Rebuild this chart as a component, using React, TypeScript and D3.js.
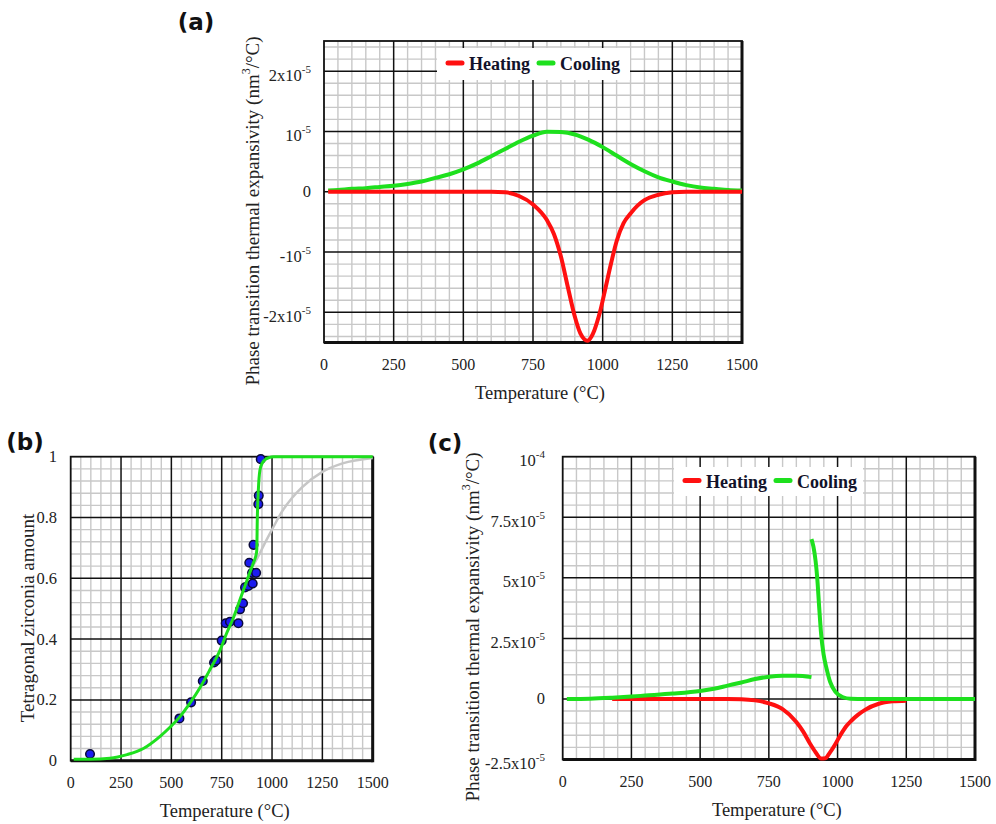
import React from "react";
import * as d3 from "d3";

const SERIF = "'Liberation Serif', 'Times New Roman', Times, serif";
const LETTER_FONT = "'DejaVu Sans', Verdana, sans-serif";
const RED = "#ff1010";
const GREEN = "#1ee01e";
const GRAY = "#c6c6c6";
const MINOR = "#c8c8c8";
const POINT_BLUE = "#1c1cf0";

// shared axis
const tempTicks = [0, 250, 500, 750, 1000, 1250, 1500];
const legendLabels = ["Heating", "Cooling"];

// (a) expansivity, values in units of 1e-5 nm3/°C
const aYTicks = [-2, -1, 0, 1, 2];
const aYLabels: [string, string][] = [["-2x10", "-5"], ["-10", "-5"], ["0", ""], ["10", "-5"], ["2x10", "-5"]];
const aHeatTemp = [15, 100, 200, 300, 400, 500, 600, 650, 700, 750, 800, 825, 850, 875, 900, 920, 935, 945, 960, 970, 990, 1010, 1030, 1050, 1075, 1100, 1125, 1150, 1200, 1250, 1300, 1400, 1500];
const aHeating = [0, 0, 0, 0, 0, 0, 0, -0.01, -0.07, -0.21, -0.47, -0.7, -1.07, -1.58, -2.07, -2.35, -2.45, -2.47, -2.4, -2.3, -2.0, -1.6, -1.19, -0.82, -0.52, -0.36, -0.23, -0.14, -0.05, -0.01, 0, 0, 0];
const aCoolTemp = [15, 50, 100, 150, 200, 250, 300, 350, 400, 450, 500, 550, 600, 650, 700, 750, 800, 850, 900, 950, 1000, 1050, 1100, 1150, 1200, 1250, 1300, 1350, 1400, 1450, 1500];
const aCooling = [0.02, 0.03, 0.05, 0.06, 0.08, 0.1, 0.13, 0.17, 0.23, 0.29, 0.37, 0.47, 0.59, 0.71, 0.83, 0.93, 0.995, 0.99, 0.95, 0.86, 0.74, 0.6, 0.46, 0.34, 0.24, 0.17, 0.11, 0.07, 0.05, 0.03, 0.02];

// (b) tetragonal zirconia fraction
const bYTicks = [0, 0.2, 0.4, 0.6, 0.8, 1];
const bYLabels: [string, string][] = [["0", ""], ["0.2", ""], ["0.4", ""], ["0.6", ""], ["0.8", ""], ["1", ""]];
const bFitTemp = [15, 100, 195, 280, 361, 444, 493, 543, 593, 642, 692, 742, 775, 808, 841, 874, 907, 918, 924, 927, 932, 940, 952, 965, 985, 1007, 1100, 1250, 1500];
const bFit = [0.005, 0.005, 0.008, 0.02, 0.04, 0.08, 0.11, 0.145, 0.19, 0.24, 0.3, 0.364, 0.42, 0.47, 0.53, 0.59, 0.65, 0.67, 0.69, 0.8, 0.89, 0.956, 0.98, 0.99, 0.997, 1, 1, 1, 1];
const bRefTemp = [905, 930, 960, 1000, 1050, 1100, 1150, 1250, 1350, 1500];
const bRef = [0.64, 0.67, 0.71, 0.76, 0.82, 0.865, 0.9, 0.95, 0.978, 0.996];
const bPointTemp = [96, 540, 598, 656, 712, 722, 750, 770, 791, 833, 841, 856, 866, 882, 904, 887, 901, 921, 908, 932, 934, 944];
const bPointValue = [0.022, 0.139, 0.192, 0.262, 0.323, 0.33, 0.395, 0.452, 0.457, 0.452, 0.498, 0.518, 0.57, 0.575, 0.583, 0.651, 0.618, 0.618, 0.71, 0.844, 0.872, 0.992];

// (c) expansivity, values in units of 1e-5 nm3/°C
const cYTicks = [-2.5, 0, 2.5, 5, 7.5, 10];
const cYLabels: [string, string][] = [["-2.5x10", "-5"], ["0", ""], ["2.5x10", "-5"], ["5x10", "-5"], ["7.5x10", "-5"], ["10", "-4"]];
const cHeatTemp = [180, 300, 400, 500, 600, 650, 700, 750, 800, 850, 875, 900, 920, 940, 955, 970, 990, 1010, 1030, 1050, 1075, 1100, 1150, 1200, 1250];
const cHeating = [0, 0, 0, 0, 0, -0.01, -0.06, -0.18, -0.42, -0.95, -1.35, -1.85, -2.2, -2.46, -2.45, -2.25, -1.9, -1.5, -1.15, -0.9, -0.65, -0.45, -0.2, -0.1, -0.07];
const cCoolTemp = [15, 100, 180, 250, 300, 400, 500, 550, 600, 650, 700, 750, 800, 850, 905];
const cCooling = [0, 0.01, 0.05, 0.1, 0.14, 0.22, 0.33, 0.42, 0.55, 0.68, 0.82, 0.92, 0.96, 0.96, 0.9];
const cSpikeTemp = [905, 912, 920, 926, 933, 940, 949, 960, 973, 993, 1020, 1047, 1100, 1200, 1300, 1400, 1500];
const cSpike = [6.6, 6.3, 5.7, 5.0, 3.8, 2.7, 1.85, 1.25, 0.7, 0.28, 0.07, 0.01, 0, 0, 0, 0, 0];

type Scale = d3.ScaleLinear<number, number>;

const zip = (xs: number[], ys: number[]) => xs.map((t, i) => [t, ys[i]] as [number, number]);

function curvePath(x: Scale, y: Scale, xs: number[], ys: number[]) {
  return d3
    .line<[number, number]>()
    .x(d => x(d[0]))
    .y(d => y(d[1]))
    .curve(d3.curveMonotoneX)(zip(xs, ys)) || "";
}

type PanelProps = {
  left: number;
  right: number;
  top: number;
  bottom: number;
  yDomain: [number, number];
  yMinorStep: number;
  yTicks: number[];
  yLabels: [string, string][];
  yLabelX: number;
  yTitle: React.ReactNode;
  yTitleX: number;
  yTitleY: number;
  xTitleDx: number;
  letter: string;
  letterX: number;
  letterY: number;
  render: (x: Scale, y: Scale) => React.ReactNode;
};

function Panel(p: PanelProps) {
  const x = d3.scaleLinear().domain([0, 1500]).range([p.left, p.right]);
  const y = d3.scaleLinear().domain(p.yDomain).range([p.bottom, p.top]);
  const [y0, y1] = p.yDomain;
  const xMinor = d3.range(0, 1501, 50).filter(v => v % 250 !== 0);
  const yMinor = d3
    .range(Math.round(y0 / p.yMinorStep), Math.round(y1 / p.yMinorStep) + 1)
    .map(i => i * p.yMinorStep)
    .filter(v => !p.yTicks.some(t => Math.abs(t - v) < 1e-6) && v > y0 + 1e-6 && v < y1 - 1e-6);

  return (
    <g>
      <rect x={p.left} y={p.top} width={p.right - p.left} height={p.bottom - p.top} fill="#fff" />
      {xMinor.map(v => (
        <line key={"xm" + v} x1={x(v)} x2={x(v)} y1={p.top} y2={p.bottom} stroke={MINOR} strokeWidth={1.4} />
      ))}
      {yMinor.map(v => (
        <line key={"ym" + v} x1={p.left} x2={p.right} y1={y(v)} y2={y(v)} stroke={MINOR} strokeWidth={1.4} />
      ))}
      {tempTicks.slice(1, -1).map(v => (
        <line key={"xM" + v} x1={x(v)} x2={x(v)} y1={p.top} y2={p.bottom} stroke="#111" strokeWidth={1.5} />
      ))}
      {p.yTicks
        .filter(v => v > y0 && v < y1)
        .map(v => (
          <line key={"yM" + v} x1={p.left} x2={p.right} y1={y(v)} y2={y(v)} stroke="#111" strokeWidth={1.5} />
        ))}
      <rect x={p.left} y={p.top} width={p.right - p.left} height={p.bottom - p.top} fill="none" stroke="#111" strokeWidth={1.8} />
      <line x1={p.right} x2={p.right} y1={p.top} y2={p.bottom + 1.5} stroke="#111" strokeWidth={3} />
      <line x1={p.left} x2={p.right} y1={p.bottom} y2={p.bottom} stroke="#111" strokeWidth={3} />

      {p.render(x, y)}

      {/* tick labels */}
      {tempTicks.map(v => (
        <text key={"xt" + v} x={x(v)} y={p.bottom + 22} textAnchor="middle" dominantBaseline="central" fontFamily={SERIF} fontSize={16} fill="#222">
          {v}
        </text>
      ))}
      {p.yTicks.map((v, i) => {
        const [base, exp] = p.yLabels[i];
        return (
          <text key={"yt" + v} x={p.yLabelX} y={y(v) + (exp ? 4 : 0)} textAnchor="end" dominantBaseline="central" fontFamily={SERIF} fontSize={16.5} fill="#222">
            {base}
            {exp && (
              <tspan dy={-6.5} fontSize={11}>
                {exp}
              </tspan>
            )}
          </text>
        );
      })}

      {/* axis titles */}
      <text x={(p.left + p.right) / 2 + p.xTitleDx} y={p.bottom + 50} textAnchor="middle" dominantBaseline="central" fontFamily={SERIF} fontSize={18.5} fill="#222">
        Temperature (°C)
      </text>
      <text transform={`translate(${p.yTitleX},${p.yTitleY}) rotate(-90)`} textAnchor="middle" dominantBaseline="central" fontFamily={SERIF} fontSize={19} fill="#222">
        {p.yTitle}
      </text>

      <text x={p.letterX} y={p.letterY} textAnchor="middle" dominantBaseline="central" fontFamily={LETTER_FONT} fontWeight="bold" fontSize={23} fill="#111">
        {p.letter}
      </text>
    </g>
  );
}

function Legend({ x, top, height, width }: { x: number; top: number; height: number; width: number }) {
  const cy = top + height / 2 - 1;
  const colors = [RED, GREEN];
  const offsets = [0, 91];
  return (
    <g>
      <rect x={x} y={top} width={width} height={height} fill="#fff" />
      {legendLabels.map((label, i) => (
        <g key={label}>
          <line x1={x + 11 + offsets[i]} x2={x + 25 + offsets[i]} y1={cy} y2={cy} stroke={colors[i]} strokeWidth={5} strokeLinecap="round" />
          <text x={x + 32 + offsets[i]} y={cy + 7} fontFamily={SERIF} fontWeight="bold" fontSize={18} fill="#12122a">
            {label}
          </text>
        </g>
      ))}
    </g>
  );
}

const expansivityTitle = (
  <>
    Phase transition thermal  expansivity (nm
    <tspan dy={-6} fontSize={12}>
      3
    </tspan>
    <tspan dy={6}>/°C)</tspan>
  </>
);

export default function App() {
  return (
    <svg width={996} height={824} style={{ position: "absolute", left: 0, top: 0, background: "#fff" }} xmlSpace="preserve">
      <Panel
        left={324}
        right={742}
        top={41}
        bottom={342.5}
        yDomain={[-2.5, 2.5]}
        yMinorStep={0.2}
        yTicks={aYTicks}
        yLabels={aYLabels}
        yLabelX={311}
        yTitle={expansivityTitle}
        yTitleX={252}
        yTitleY={211}
        xTitleDx={7}
        letter="(a)"
        letterX={196}
        letterY={22}
        render={(x, y) => (
          <g>
            <Legend x={437} top={48} height={32} width={193} />
            <path d={curvePath(x, y, aCoolTemp, aCooling)} fill="none" stroke={GREEN} strokeWidth={4} />
            <path d={curvePath(x, y, aHeatTemp, aHeating)} fill="none" stroke={RED} strokeWidth={4} />
          </g>
        )}
      />
      <Panel
        left={70.7}
        right={372.7}
        top={456.7}
        bottom={760.7}
        yDomain={[0, 1]}
        yMinorStep={0.04}
        yTicks={bYTicks}
        yLabels={bYLabels}
        yLabelX={57}
        yTitle="Tetragonal zirconia amount"
        yTitleX={27}
        yTitleY={618}
        xTitleDx={3}
        letter="(b)"
        letterX={25}
        letterY={442}
        render={(x, y) => (
          <g>
            <path d={curvePath(x, y, bRefTemp, bRef)} fill="none" stroke={GRAY} strokeWidth={2.5} />
            {bPointTemp.map((t, i) => (
              <circle key={i} cx={x(t)} cy={y(bPointValue[i])} r={4.3} fill={POINT_BLUE} stroke="#0a0a3a" strokeWidth={1.5} />
            ))}
            <path d={curvePath(x, y, bFitTemp, bFit)} fill="none" stroke={GREEN} strokeWidth={3} />
          </g>
        )}
      />
      <Panel
        left={562.7}
        right={975}
        top={456.7}
        bottom={759.5}
        yDomain={[-2.5, 10]}
        yMinorStep={0.5}
        yTicks={cYTicks}
        yLabels={cYLabels}
        yLabelX={545}
        yTitle={expansivityTitle}
        yTitleX={472}
        yTitleY={627}
        xTitleDx={8}
        letter="(c)"
        letterX={445}
        letterY={443}
        render={(x, y) => (
          <g>
            <Legend x={674} top={467} height={29} width={189} />
            <path d={curvePath(x, y, cHeatTemp, cHeating)} fill="none" stroke={RED} strokeWidth={4} />
            <path d={curvePath(x, y, cCoolTemp, cCooling)} fill="none" stroke={GREEN} strokeWidth={4} />
            <path d={curvePath(x, y, cSpikeTemp, cSpike)} fill="none" stroke={GREEN} strokeWidth={4} />
          </g>
        )}
      />
    </svg>
  );
}
